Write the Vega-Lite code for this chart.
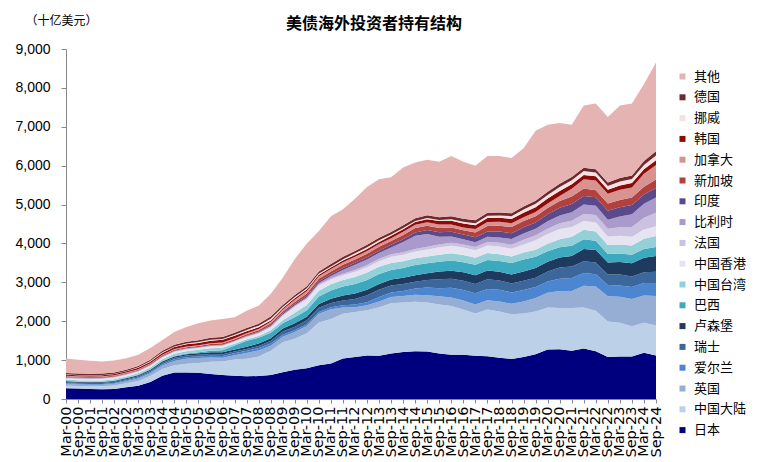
{
"$schema": "https://vega.github.io/schema/vega-lite/v6.json",
"autosize": {"type": "none"},
"padding": {"left": 66, "top": 49, "right": 108, "bottom": 63},
"width": 590,
"height": 350,
"background": "white",
"title": {"text": "美债海外投资者持有结构", "font": "Noto Sans CJK SC", "fontSize": 16, "fontWeight": "bold", "color": "#000000", "anchor": "middle", "dx": 13, "offset": 0, "dy": 18},
"config": {"view": {"stroke": null}, "axis": {"grid": false}},
"data": {"values": [
{"d":"Mar-00","s":"日本","v":275},{"d":"Sep-00","s":"日本","v":270},{"d":"Mar-01","s":"日本","v":260},{"d":"Sep-01","s":"日本","v":250},{"d":"Mar-02","s":"日本","v":260},{"d":"Sep-02","s":"日本","v":300},{"d":"Mar-03","s":"日本","v":340},{"d":"Sep-03","s":"日本","v":440},{"d":"Mar-04","s":"日本","v":600},{"d":"Sep-04","s":"日本","v":680},{"d":"Mar-05","s":"日本","v":680},{"d":"Sep-05","s":"日本","v":675},{"d":"Mar-06","s":"日本","v":640},{"d":"Sep-06","s":"日本","v":620},{"d":"Mar-07","s":"日本","v":600},{"d":"Sep-07","s":"日本","v":585},{"d":"Mar-08","s":"日本","v":590},{"d":"Sep-08","s":"日本","v":620},{"d":"Mar-09","s":"日本","v":690},{"d":"Sep-09","s":"日本","v":750},{"d":"Mar-10","s":"日本","v":790},{"d":"Sep-10","s":"日本","v":870},{"d":"Mar-11","s":"日本","v":910},{"d":"Sep-11","s":"日本","v":1040},{"d":"Mar-12","s":"日本","v":1080},{"d":"Sep-12","s":"日本","v":1120},{"d":"Mar-13","s":"日本","v":1110},{"d":"Sep-13","s":"日本","v":1170},{"d":"Mar-14","s":"日本","v":1210},{"d":"Sep-14","s":"日本","v":1230},{"d":"Mar-15","s":"日本","v":1220},{"d":"Sep-15","s":"日本","v":1170},{"d":"Mar-16","s":"日本","v":1140},{"d":"Sep-16","s":"日本","v":1140},{"d":"Mar-17","s":"日本","v":1110},{"d":"Sep-17","s":"日本","v":1100},{"d":"Mar-18","s":"日本","v":1060},{"d":"Sep-18","s":"日本","v":1030},{"d":"Mar-19","s":"日本","v":1080},{"d":"Sep-19","s":"日本","v":1150},{"d":"Mar-20","s":"日本","v":1270},{"d":"Sep-20","s":"日本","v":1280},{"d":"Mar-21","s":"日本","v":1240},{"d":"Sep-21","s":"日本","v":1300},{"d":"Mar-22","s":"日本","v":1230},{"d":"Sep-22","s":"日本","v":1080},{"d":"Mar-23","s":"日本","v":1090},{"d":"Sep-23","s":"日本","v":1090},{"d":"Mar-24","s":"日本","v":1190},{"d":"Sep-24","s":"日本","v":1120},
{"d":"Mar-00","s":"中国大陆","v":72},{"d":"Sep-00","s":"中国大陆","v":60},{"d":"Mar-01","s":"中国大陆","v":65},{"d":"Sep-01","s":"中国大陆","v":75},{"d":"Mar-02","s":"中国大陆","v":85},{"d":"Sep-02","s":"中国大陆","v":105},{"d":"Mar-03","s":"中国大陆","v":125},{"d":"Sep-03","s":"中国大陆","v":150},{"d":"Mar-04","s":"中国大陆","v":170},{"d":"Sep-04","s":"中国大陆","v":190},{"d":"Mar-05","s":"中国大陆","v":225},{"d":"Sep-05","s":"中国大陆","v":250},{"d":"Mar-06","s":"中国大陆","v":320},{"d":"Sep-06","s":"中国大陆","v":345},{"d":"Mar-07","s":"中国大陆","v":415},{"d":"Sep-07","s":"中国大陆","v":450},{"d":"Mar-08","s":"中国大陆","v":500},{"d":"Sep-08","s":"中国大陆","v":620},{"d":"Mar-09","s":"中国大陆","v":770},{"d":"Sep-09","s":"中国大陆","v":800},{"d":"Mar-10","s":"中国大陆","v":900},{"d":"Sep-10","s":"中国大陆","v":1100},{"d":"Mar-11","s":"中国大陆","v":1150},{"d":"Sep-11","s":"中国大陆","v":1150},{"d":"Mar-12","s":"中国大陆","v":1160},{"d":"Sep-12","s":"中国大陆","v":1160},{"d":"Mar-13","s":"中国大陆","v":1250},{"d":"Sep-13","s":"中国大陆","v":1290},{"d":"Mar-14","s":"中国大陆","v":1270},{"d":"Sep-14","s":"中国大陆","v":1270},{"d":"Mar-15","s":"中国大陆","v":1260},{"d":"Sep-15","s":"中国大陆","v":1260},{"d":"Mar-16","s":"中国大陆","v":1250},{"d":"Sep-16","s":"中国大陆","v":1160},{"d":"Mar-17","s":"中国大陆","v":1090},{"d":"Sep-17","s":"中国大陆","v":1200},{"d":"Mar-18","s":"中国大陆","v":1190},{"d":"Sep-18","s":"中国大陆","v":1150},{"d":"Mar-19","s":"中国大陆","v":1120},{"d":"Sep-19","s":"中国大陆","v":1100},{"d":"Mar-20","s":"中国大陆","v":1080},{"d":"Sep-20","s":"中国大陆","v":1060},{"d":"Mar-21","s":"中国大陆","v":1100},{"d":"Sep-21","s":"中国大陆","v":1050},{"d":"Mar-22","s":"中国大陆","v":1040},{"d":"Sep-22","s":"中国大陆","v":910},{"d":"Mar-23","s":"中国大陆","v":870},{"d":"Sep-23","s":"中国大陆","v":780},{"d":"Mar-24","s":"中国大陆","v":770},{"d":"Sep-24","s":"中国大陆","v":770},
{"d":"Mar-00","s":"英国","v":45},{"d":"Sep-00","s":"英国","v":45},{"d":"Mar-01","s":"英国","v":40},{"d":"Sep-01","s":"英国","v":40},{"d":"Mar-02","s":"英国","v":45},{"d":"Sep-02","s":"英国","v":50},{"d":"Mar-03","s":"英国","v":60},{"d":"Sep-03","s":"英国","v":70},{"d":"Mar-04","s":"英国","v":90},{"d":"Sep-04","s":"英国","v":110},{"d":"Mar-05","s":"英国","v":130},{"d":"Sep-05","s":"英国","v":130},{"d":"Mar-06","s":"英国","v":110},{"d":"Sep-06","s":"英国","v":95},{"d":"Mar-07","s":"英国","v":110},{"d":"Sep-07","s":"英国","v":150},{"d":"Mar-08","s":"英国","v":160},{"d":"Sep-08","s":"英国","v":130},{"d":"Mar-09","s":"英国","v":140},{"d":"Sep-09","s":"英国","v":170},{"d":"Mar-10","s":"英国","v":190},{"d":"Sep-10","s":"英国","v":220},{"d":"Mar-11","s":"英国","v":250},{"d":"Sep-11","s":"英国","v":160},{"d":"Mar-12","s":"英国","v":120},{"d":"Sep-12","s":"英国","v":130},{"d":"Mar-13","s":"英国","v":150},{"d":"Sep-13","s":"英国","v":160},{"d":"Mar-14","s":"英国","v":170},{"d":"Sep-14","s":"英国","v":180},{"d":"Mar-15","s":"英国","v":190},{"d":"Sep-15","s":"英国","v":210},{"d":"Mar-16","s":"英国","v":220},{"d":"Sep-16","s":"英国","v":230},{"d":"Mar-17","s":"英国","v":230},{"d":"Sep-17","s":"英国","v":240},{"d":"Mar-18","s":"英国","v":260},{"d":"Sep-18","s":"英国","v":270},{"d":"Mar-19","s":"英国","v":310},{"d":"Sep-19","s":"英国","v":350},{"d":"Mar-20","s":"英国","v":380},{"d":"Sep-20","s":"英国","v":440},{"d":"Mar-21","s":"英国","v":440},{"d":"Sep-21","s":"英国","v":560},{"d":"Mar-22","s":"英国","v":620},{"d":"Sep-22","s":"英国","v":650},{"d":"Mar-23","s":"英国","v":670},{"d":"Sep-23","s":"英国","v":700},{"d":"Mar-24","s":"英国","v":700},{"d":"Sep-24","s":"英国","v":760},
{"d":"Mar-00","s":"爱尔兰","v":20},{"d":"Sep-00","s":"爱尔兰","v":20},{"d":"Mar-01","s":"爱尔兰","v":20},{"d":"Sep-01","s":"爱尔兰","v":22},{"d":"Mar-02","s":"爱尔兰","v":24},{"d":"Sep-02","s":"爱尔兰","v":25},{"d":"Mar-03","s":"爱尔兰","v":28},{"d":"Sep-03","s":"爱尔兰","v":30},{"d":"Mar-04","s":"爱尔兰","v":35},{"d":"Sep-04","s":"爱尔兰","v":40},{"d":"Mar-05","s":"爱尔兰","v":40},{"d":"Sep-05","s":"爱尔兰","v":40},{"d":"Mar-06","s":"爱尔兰","v":40},{"d":"Sep-06","s":"爱尔兰","v":45},{"d":"Mar-07","s":"爱尔兰","v":50},{"d":"Sep-07","s":"爱尔兰","v":55},{"d":"Mar-08","s":"爱尔兰","v":60},{"d":"Sep-08","s":"爱尔兰","v":60},{"d":"Mar-09","s":"爱尔兰","v":55},{"d":"Sep-09","s":"爱尔兰","v":50},{"d":"Mar-10","s":"爱尔兰","v":45},{"d":"Sep-10","s":"爱尔兰","v":45},{"d":"Mar-11","s":"爱尔兰","v":50},{"d":"Sep-11","s":"爱尔兰","v":60},{"d":"Mar-12","s":"爱尔兰","v":70},{"d":"Sep-12","s":"爱尔兰","v":80},{"d":"Mar-13","s":"爱尔兰","v":110},{"d":"Sep-13","s":"爱尔兰","v":120},{"d":"Mar-14","s":"爱尔兰","v":130},{"d":"Sep-14","s":"爱尔兰","v":160},{"d":"Mar-15","s":"爱尔兰","v":200},{"d":"Sep-15","s":"爱尔兰","v":210},{"d":"Mar-16","s":"爱尔兰","v":250},{"d":"Sep-16","s":"爱尔兰","v":270},{"d":"Mar-17","s":"爱尔兰","v":290},{"d":"Sep-17","s":"爱尔兰","v":290},{"d":"Mar-18","s":"爱尔兰","v":300},{"d":"Sep-18","s":"爱尔兰","v":290},{"d":"Mar-19","s":"爱尔兰","v":290},{"d":"Sep-19","s":"爱尔兰","v":280},{"d":"Mar-20","s":"爱尔兰","v":290},{"d":"Sep-20","s":"爱尔兰","v":310},{"d":"Mar-21","s":"爱尔兰","v":330},{"d":"Sep-21","s":"爱尔兰","v":330},{"d":"Mar-22","s":"爱尔兰","v":320},{"d":"Sep-22","s":"爱尔兰","v":290},{"d":"Mar-23","s":"爱尔兰","v":290},{"d":"Sep-23","s":"爱尔兰","v":310},{"d":"Mar-24","s":"爱尔兰","v":320},{"d":"Sep-24","s":"爱尔兰","v":330},
{"d":"Mar-00","s":"瑞士","v":25},{"d":"Sep-00","s":"瑞士","v":25},{"d":"Mar-01","s":"瑞士","v":28},{"d":"Sep-01","s":"瑞士","v":28},{"d":"Mar-02","s":"瑞士","v":30},{"d":"Sep-02","s":"瑞士","v":30},{"d":"Mar-03","s":"瑞士","v":32},{"d":"Sep-03","s":"瑞士","v":35},{"d":"Mar-04","s":"瑞士","v":38},{"d":"Sep-04","s":"瑞士","v":40},{"d":"Mar-05","s":"瑞士","v":42},{"d":"Sep-05","s":"瑞士","v":42},{"d":"Mar-06","s":"瑞士","v":45},{"d":"Sep-06","s":"瑞士","v":45},{"d":"Mar-07","s":"瑞士","v":45},{"d":"Sep-07","s":"瑞士","v":45},{"d":"Mar-08","s":"瑞士","v":50},{"d":"Sep-08","s":"瑞士","v":60},{"d":"Mar-09","s":"瑞士","v":80},{"d":"Sep-09","s":"瑞士","v":90},{"d":"Mar-10","s":"瑞士","v":100},{"d":"Sep-10","s":"瑞士","v":110},{"d":"Mar-11","s":"瑞士","v":110},{"d":"Sep-11","s":"瑞士","v":120},{"d":"Mar-12","s":"瑞士","v":140},{"d":"Sep-12","s":"瑞士","v":180},{"d":"Mar-13","s":"瑞士","v":190},{"d":"Sep-13","s":"瑞士","v":180},{"d":"Mar-14","s":"瑞士","v":180},{"d":"Sep-14","s":"瑞士","v":175},{"d":"Mar-15","s":"瑞士","v":190},{"d":"Sep-15","s":"瑞士","v":230},{"d":"Mar-16","s":"瑞士","v":230},{"d":"Sep-16","s":"瑞士","v":240},{"d":"Mar-17","s":"瑞士","v":240},{"d":"Sep-17","s":"瑞士","v":250},{"d":"Mar-18","s":"瑞士","v":240},{"d":"Sep-18","s":"瑞士","v":230},{"d":"Mar-19","s":"瑞士","v":240},{"d":"Sep-19","s":"瑞士","v":240},{"d":"Mar-20","s":"瑞士","v":260},{"d":"Sep-20","s":"瑞士","v":290},{"d":"Mar-21","s":"瑞士","v":300},{"d":"Sep-21","s":"瑞士","v":300},{"d":"Mar-22","s":"瑞士","v":300},{"d":"Sep-22","s":"瑞士","v":270},{"d":"Mar-23","s":"瑞士","v":280},{"d":"Sep-23","s":"瑞士","v":270},{"d":"Mar-24","s":"瑞士","v":280},{"d":"Sep-24","s":"瑞士","v":290},
{"d":"Mar-00","s":"卢森堡","v":20},{"d":"Sep-00","s":"卢森堡","v":20},{"d":"Mar-01","s":"卢森堡","v":20},{"d":"Sep-01","s":"卢森堡","v":20},{"d":"Mar-02","s":"卢森堡","v":22},{"d":"Sep-02","s":"卢森堡","v":25},{"d":"Mar-03","s":"卢森堡","v":25},{"d":"Sep-03","s":"卢森堡","v":28},{"d":"Mar-04","s":"卢森堡","v":30},{"d":"Sep-04","s":"卢森堡","v":32},{"d":"Mar-05","s":"卢森堡","v":35},{"d":"Sep-05","s":"卢森堡","v":40},{"d":"Mar-06","s":"卢森堡","v":45},{"d":"Sep-06","s":"卢森堡","v":50},{"d":"Mar-07","s":"卢森堡","v":55},{"d":"Sep-07","s":"卢森堡","v":60},{"d":"Mar-08","s":"卢森堡","v":65},{"d":"Sep-08","s":"卢森堡","v":75},{"d":"Mar-09","s":"卢森堡","v":80},{"d":"Sep-09","s":"卢森堡","v":85},{"d":"Mar-10","s":"卢森堡","v":90},{"d":"Sep-10","s":"卢森堡","v":100},{"d":"Mar-11","s":"卢森堡","v":110},{"d":"Sep-11","s":"卢森堡","v":130},{"d":"Mar-12","s":"卢森堡","v":140},{"d":"Sep-12","s":"卢森堡","v":140},{"d":"Mar-13","s":"卢森堡","v":150},{"d":"Sep-13","s":"卢森堡","v":150},{"d":"Mar-14","s":"卢森堡","v":160},{"d":"Sep-14","s":"卢森堡","v":170},{"d":"Mar-15","s":"卢森堡","v":175},{"d":"Sep-15","s":"卢森堡","v":200},{"d":"Mar-16","s":"卢森堡","v":210},{"d":"Sep-16","s":"卢森堡","v":220},{"d":"Mar-17","s":"卢森堡","v":220},{"d":"Sep-17","s":"卢森堡","v":225},{"d":"Mar-18","s":"卢森堡","v":220},{"d":"Sep-18","s":"卢森堡","v":230},{"d":"Mar-19","s":"卢森堡","v":240},{"d":"Sep-19","s":"卢森堡","v":250},{"d":"Mar-20","s":"卢森堡","v":250},{"d":"Sep-20","s":"卢森堡","v":260},{"d":"Mar-21","s":"卢森堡","v":270},{"d":"Sep-21","s":"卢森堡","v":320},{"d":"Mar-22","s":"卢森堡","v":320},{"d":"Sep-22","s":"卢森堡","v":310},{"d":"Mar-23","s":"卢森堡","v":320},{"d":"Sep-23","s":"卢森堡","v":340},{"d":"Mar-24","s":"卢森堡","v":370},{"d":"Sep-24","s":"卢森堡","v":410},
{"d":"Mar-00","s":"巴西","v":10},{"d":"Sep-00","s":"巴西","v":10},{"d":"Mar-01","s":"巴西","v":10},{"d":"Sep-01","s":"巴西","v":10},{"d":"Mar-02","s":"巴西","v":10},{"d":"Sep-02","s":"巴西","v":10},{"d":"Mar-03","s":"巴西","v":12},{"d":"Sep-03","s":"巴西","v":12},{"d":"Mar-04","s":"巴西","v":12},{"d":"Sep-04","s":"巴西","v":15},{"d":"Mar-05","s":"巴西","v":18},{"d":"Sep-05","s":"巴西","v":25},{"d":"Mar-06","s":"巴西","v":40},{"d":"Sep-06","s":"巴西","v":55},{"d":"Mar-07","s":"巴西","v":100},{"d":"Sep-07","s":"巴西","v":150},{"d":"Mar-08","s":"巴西","v":150},{"d":"Sep-08","s":"巴西","v":140},{"d":"Mar-09","s":"巴西","v":130},{"d":"Sep-09","s":"巴西","v":160},{"d":"Mar-10","s":"巴西","v":170},{"d":"Sep-10","s":"巴西","v":190},{"d":"Mar-11","s":"巴西","v":210},{"d":"Sep-11","s":"巴西","v":230},{"d":"Mar-12","s":"巴西","v":245},{"d":"Sep-12","s":"巴西","v":250},{"d":"Mar-13","s":"巴西","v":255},{"d":"Sep-13","s":"巴西","v":250},{"d":"Mar-14","s":"巴西","v":250},{"d":"Sep-14","s":"巴西","v":260},{"d":"Mar-15","s":"巴西","v":255},{"d":"Sep-15","s":"巴西","v":250},{"d":"Mar-16","s":"巴西","v":260},{"d":"Sep-16","s":"巴西","v":255},{"d":"Mar-17","s":"巴西","v":270},{"d":"Sep-17","s":"巴西","v":270},{"d":"Mar-18","s":"巴西","v":280},{"d":"Sep-18","s":"巴西","v":300},{"d":"Mar-19","s":"巴西","v":310},{"d":"Sep-19","s":"巴西","v":290},{"d":"Mar-20","s":"巴西","v":270},{"d":"Sep-20","s":"巴西","v":260},{"d":"Mar-21","s":"巴西","v":260},{"d":"Sep-21","s":"巴西","v":250},{"d":"Mar-22","s":"巴西","v":240},{"d":"Sep-22","s":"巴西","v":220},{"d":"Mar-23","s":"巴西","v":220},{"d":"Sep-23","s":"巴西","v":220},{"d":"Mar-24","s":"巴西","v":230},{"d":"Sep-24","s":"巴西","v":230},
{"d":"Mar-00","s":"中国台湾","v":32},{"d":"Sep-00","s":"中国台湾","v":32},{"d":"Mar-01","s":"中国台湾","v":32},{"d":"Sep-01","s":"中国台湾","v":33},{"d":"Mar-02","s":"中国台湾","v":35},{"d":"Sep-02","s":"中国台湾","v":35},{"d":"Mar-03","s":"中国台湾","v":38},{"d":"Sep-03","s":"中国台湾","v":42},{"d":"Mar-04","s":"中国台湾","v":48},{"d":"Sep-04","s":"中国台湾","v":55},{"d":"Mar-05","s":"中国台湾","v":60},{"d":"Sep-05","s":"中国台湾","v":62},{"d":"Mar-06","s":"中国台湾","v":65},{"d":"Sep-06","s":"中国台湾","v":60},{"d":"Mar-07","s":"中国台湾","v":45},{"d":"Sep-07","s":"中国台湾","v":40},{"d":"Mar-08","s":"中国台湾","v":45},{"d":"Sep-08","s":"中国台湾","v":60},{"d":"Mar-09","s":"中国台湾","v":80},{"d":"Sep-09","s":"中国台湾","v":115},{"d":"Mar-10","s":"中国台湾","v":130},{"d":"Sep-10","s":"中国台湾","v":150},{"d":"Mar-11","s":"中国台湾","v":160},{"d":"Sep-11","s":"中国台湾","v":170},{"d":"Mar-12","s":"中国台湾","v":180},{"d":"Sep-12","s":"中国台湾","v":190},{"d":"Mar-13","s":"中国台湾","v":185},{"d":"Sep-13","s":"中国台湾","v":180},{"d":"Mar-14","s":"中国台湾","v":175},{"d":"Sep-14","s":"中国台湾","v":175},{"d":"Mar-15","s":"中国台湾","v":175},{"d":"Sep-15","s":"中国台湾","v":180},{"d":"Mar-16","s":"中国台湾","v":185},{"d":"Sep-16","s":"中国台湾","v":190},{"d":"Mar-17","s":"中国台湾","v":185},{"d":"Sep-17","s":"中国台湾","v":180},{"d":"Mar-18","s":"中国台湾","v":170},{"d":"Sep-18","s":"中国台湾","v":165},{"d":"Mar-19","s":"中国台湾","v":175},{"d":"Sep-19","s":"中国台湾","v":180},{"d":"Mar-20","s":"中国台湾","v":190},{"d":"Sep-20","s":"中国台湾","v":210},{"d":"Mar-21","s":"中国台湾","v":230},{"d":"Sep-21","s":"中国台湾","v":240},{"d":"Mar-22","s":"中国台湾","v":240},{"d":"Sep-22","s":"中国台湾","v":230},{"d":"Mar-23","s":"中国台湾","v":235},{"d":"Sep-23","s":"中国台湾","v":240},{"d":"Mar-24","s":"中国台湾","v":260},{"d":"Sep-24","s":"中国台湾","v":280},
{"d":"Mar-00","s":"中国香港","v":32},{"d":"Sep-00","s":"中国香港","v":34},{"d":"Mar-01","s":"中国香港","v":35},{"d":"Sep-01","s":"中国香港","v":38},{"d":"Mar-02","s":"中国香港","v":38},{"d":"Sep-02","s":"中国香港","v":40},{"d":"Mar-03","s":"中国香港","v":42},{"d":"Sep-03","s":"中国香港","v":45},{"d":"Mar-04","s":"中国香港","v":45},{"d":"Sep-04","s":"中国香港","v":45},{"d":"Mar-05","s":"中国香港","v":42},{"d":"Sep-05","s":"中国香港","v":40},{"d":"Mar-06","s":"中国香港","v":45},{"d":"Sep-06","s":"中国香港","v":50},{"d":"Mar-07","s":"中国香港","v":50},{"d":"Sep-07","s":"中国香港","v":55},{"d":"Mar-08","s":"中国香港","v":65},{"d":"Sep-08","s":"中国香港","v":75},{"d":"Mar-09","s":"中国香港","v":110},{"d":"Sep-09","s":"中国香港","v":150},{"d":"Mar-10","s":"中国香港","v":145},{"d":"Sep-10","s":"中国香港","v":135},{"d":"Mar-11","s":"中国香港","v":125},{"d":"Sep-11","s":"中国香港","v":120},{"d":"Mar-12","s":"中国香港","v":135},{"d":"Sep-12","s":"中国香港","v":140},{"d":"Mar-13","s":"中国香港","v":145},{"d":"Sep-13","s":"中国香港","v":160},{"d":"Mar-14","s":"中国香港","v":165},{"d":"Sep-14","s":"中国香港","v":170},{"d":"Mar-15","s":"中国香港","v":180},{"d":"Sep-15","s":"中国香港","v":190},{"d":"Mar-16","s":"中国香港","v":195},{"d":"Sep-16","s":"中国香港","v":190},{"d":"Mar-17","s":"中国香港","v":190},{"d":"Sep-17","s":"中国香港","v":195},{"d":"Mar-18","s":"中国香港","v":200},{"d":"Sep-18","s":"中国香港","v":200},{"d":"Mar-19","s":"中国香港","v":210},{"d":"Sep-19","s":"中国香港","v":240},{"d":"Mar-20","s":"中国香港","v":250},{"d":"Sep-20","s":"中国香港","v":260},{"d":"Mar-21","s":"中国香港","v":255},{"d":"Sep-21","s":"中国香港","v":230},{"d":"Mar-22","s":"中国香港","v":230},{"d":"Sep-22","s":"中国香港","v":220},{"d":"Mar-23","s":"中国香港","v":220},{"d":"Sep-23","s":"中国香港","v":220},{"d":"Mar-24","s":"中国香港","v":240},{"d":"Sep-24","s":"中国香港","v":250},
{"d":"Mar-00","s":"法国","v":12},{"d":"Sep-00","s":"法国","v":12},{"d":"Mar-01","s":"法国","v":12},{"d":"Sep-01","s":"法国","v":12},{"d":"Mar-02","s":"法国","v":12},{"d":"Sep-02","s":"法国","v":12},{"d":"Mar-03","s":"法国","v":12},{"d":"Sep-03","s":"法国","v":12},{"d":"Mar-04","s":"法国","v":12},{"d":"Sep-04","s":"法国","v":12},{"d":"Mar-05","s":"法国","v":12},{"d":"Sep-05","s":"法国","v":12},{"d":"Mar-06","s":"法国","v":12},{"d":"Sep-06","s":"法国","v":12},{"d":"Mar-07","s":"法国","v":12},{"d":"Sep-07","s":"法国","v":12},{"d":"Mar-08","s":"法国","v":15},{"d":"Sep-08","s":"法国","v":20},{"d":"Mar-09","s":"法国","v":20},{"d":"Sep-09","s":"法国","v":20},{"d":"Mar-10","s":"法国","v":25},{"d":"Sep-10","s":"法国","v":25},{"d":"Mar-11","s":"法国","v":30},{"d":"Sep-11","s":"法国","v":40},{"d":"Mar-12","s":"法国","v":50},{"d":"Sep-12","s":"法国","v":55},{"d":"Mar-13","s":"法国","v":60},{"d":"Sep-13","s":"法国","v":65},{"d":"Mar-14","s":"法国","v":65},{"d":"Sep-14","s":"法国","v":70},{"d":"Mar-15","s":"法国","v":70},{"d":"Sep-15","s":"法国","v":75},{"d":"Mar-16","s":"法国","v":80},{"d":"Sep-16","s":"法国","v":80},{"d":"Mar-17","s":"法国","v":85},{"d":"Sep-17","s":"法国","v":90},{"d":"Mar-18","s":"法国","v":95},{"d":"Sep-18","s":"法国","v":100},{"d":"Mar-19","s":"法国","v":120},{"d":"Sep-19","s":"法国","v":130},{"d":"Mar-20","s":"法国","v":140},{"d":"Sep-20","s":"法国","v":150},{"d":"Mar-21","s":"法国","v":160},{"d":"Sep-21","s":"法国","v":180},{"d":"Mar-22","s":"法国","v":190},{"d":"Sep-22","s":"法国","v":200},{"d":"Mar-23","s":"法国","v":220},{"d":"Sep-23","s":"法国","v":250},{"d":"Mar-24","s":"法国","v":300},{"d":"Sep-24","s":"法国","v":350},
{"d":"Mar-00","s":"比利时","v":18},{"d":"Sep-00","s":"比利时","v":18},{"d":"Mar-01","s":"比利时","v":18},{"d":"Sep-01","s":"比利时","v":16},{"d":"Mar-02","s":"比利时","v":14},{"d":"Sep-02","s":"比利时","v":14},{"d":"Mar-03","s":"比利时","v":14},{"d":"Sep-03","s":"比利时","v":14},{"d":"Mar-04","s":"比利时","v":14},{"d":"Sep-04","s":"比利时","v":14},{"d":"Mar-05","s":"比利时","v":14},{"d":"Sep-05","s":"比利时","v":14},{"d":"Mar-06","s":"比利时","v":14},{"d":"Sep-06","s":"比利时","v":14},{"d":"Mar-07","s":"比利时","v":14},{"d":"Sep-07","s":"比利时","v":15},{"d":"Mar-08","s":"比利时","v":15},{"d":"Sep-08","s":"比利时","v":20},{"d":"Mar-09","s":"比利时","v":20},{"d":"Sep-09","s":"比利时","v":20},{"d":"Mar-10","s":"比利时","v":30},{"d":"Sep-10","s":"比利时","v":40},{"d":"Mar-11","s":"比利时","v":60},{"d":"Sep-11","s":"比利时","v":100},{"d":"Mar-12","s":"比利时","v":130},{"d":"Sep-12","s":"比利时","v":140},{"d":"Mar-13","s":"比利时","v":150},{"d":"Sep-13","s":"比利时","v":170},{"d":"Mar-14","s":"比利时","v":260},{"d":"Sep-14","s":"比利时","v":340},{"d":"Mar-15","s":"比利时","v":330},{"d":"Sep-15","s":"比利时","v":200},{"d":"Mar-16","s":"比利时","v":160},{"d":"Sep-16","s":"比利时","v":130},{"d":"Mar-17","s":"比利时","v":120},{"d":"Sep-17","s":"比利时","v":130},{"d":"Mar-18","s":"比利时","v":140},{"d":"Sep-18","s":"比利时","v":150},{"d":"Mar-19","s":"比利时","v":160},{"d":"Sep-19","s":"比利时","v":170},{"d":"Mar-20","s":"比利时","v":190},{"d":"Sep-20","s":"比利时","v":200},{"d":"Mar-21","s":"比利时","v":220},{"d":"Sep-21","s":"比利时","v":240},{"d":"Mar-22","s":"比利时","v":240},{"d":"Sep-22","s":"比利时","v":230},{"d":"Mar-23","s":"比利时","v":280},{"d":"Sep-23","s":"比利时","v":330},{"d":"Mar-24","s":"比利时","v":360},{"d":"Sep-24","s":"比利时","v":390},
{"d":"Mar-00","s":"印度","v":5},{"d":"Sep-00","s":"印度","v":5},{"d":"Mar-01","s":"印度","v":5},{"d":"Sep-01","s":"印度","v":5},{"d":"Mar-02","s":"印度","v":5},{"d":"Sep-02","s":"印度","v":5},{"d":"Mar-03","s":"印度","v":5},{"d":"Sep-03","s":"印度","v":5},{"d":"Mar-04","s":"印度","v":5},{"d":"Sep-04","s":"印度","v":5},{"d":"Mar-05","s":"印度","v":5},{"d":"Sep-05","s":"印度","v":5},{"d":"Mar-06","s":"印度","v":5},{"d":"Sep-06","s":"印度","v":5},{"d":"Mar-07","s":"印度","v":5},{"d":"Sep-07","s":"印度","v":10},{"d":"Mar-08","s":"印度","v":15},{"d":"Sep-08","s":"印度","v":25},{"d":"Mar-09","s":"印度","v":30},{"d":"Sep-09","s":"印度","v":35},{"d":"Mar-10","s":"印度","v":40},{"d":"Sep-10","s":"印度","v":40},{"d":"Mar-11","s":"印度","v":40},{"d":"Sep-11","s":"印度","v":50},{"d":"Mar-12","s":"印度","v":55},{"d":"Sep-12","s":"印度","v":60},{"d":"Mar-13","s":"印度","v":60},{"d":"Sep-13","s":"印度","v":70},{"d":"Mar-14","s":"印度","v":75},{"d":"Sep-14","s":"印度","v":80},{"d":"Mar-15","s":"印度","v":100},{"d":"Sep-15","s":"印度","v":110},{"d":"Mar-16","s":"印度","v":120},{"d":"Sep-16","s":"印度","v":125},{"d":"Mar-17","s":"印度","v":130},{"d":"Sep-17","s":"印度","v":140},{"d":"Mar-18","s":"印度","v":150},{"d":"Sep-18","s":"印度","v":145},{"d":"Mar-19","s":"印度","v":160},{"d":"Sep-19","s":"印度","v":160},{"d":"Mar-20","s":"印度","v":180},{"d":"Sep-20","s":"印度","v":200},{"d":"Mar-21","s":"印度","v":210},{"d":"Sep-21","s":"印度","v":220},{"d":"Mar-22","s":"印度","v":220},{"d":"Sep-22","s":"印度","v":230},{"d":"Mar-23","s":"印度","v":235},{"d":"Sep-23","s":"印度","v":240},{"d":"Mar-24","s":"印度","v":240},{"d":"Sep-24","s":"印度","v":245},
{"d":"Mar-00","s":"新加坡","v":20},{"d":"Sep-00","s":"新加坡","v":20},{"d":"Mar-01","s":"新加坡","v":20},{"d":"Sep-01","s":"新加坡","v":20},{"d":"Mar-02","s":"新加坡","v":20},{"d":"Sep-02","s":"新加坡","v":20},{"d":"Mar-03","s":"新加坡","v":22},{"d":"Sep-03","s":"新加坡","v":24},{"d":"Mar-04","s":"新加坡","v":26},{"d":"Sep-04","s":"新加坡","v":28},{"d":"Mar-05","s":"新加坡","v":30},{"d":"Sep-05","s":"新加坡","v":30},{"d":"Mar-06","s":"新加坡","v":32},{"d":"Sep-06","s":"新加坡","v":35},{"d":"Mar-07","s":"新加坡","v":38},{"d":"Sep-07","s":"新加坡","v":40},{"d":"Mar-08","s":"新加坡","v":40},{"d":"Sep-08","s":"新加坡","v":40},{"d":"Mar-09","s":"新加坡","v":45},{"d":"Sep-09","s":"新加坡","v":50},{"d":"Mar-10","s":"新加坡","v":60},{"d":"Sep-10","s":"新加坡","v":70},{"d":"Mar-11","s":"新加坡","v":75},{"d":"Sep-11","s":"新加坡","v":80},{"d":"Mar-12","s":"新加坡","v":85},{"d":"Sep-12","s":"新加坡","v":90},{"d":"Mar-13","s":"新加坡","v":100},{"d":"Sep-13","s":"新加坡","v":100},{"d":"Mar-14","s":"新加坡","v":110},{"d":"Sep-14","s":"新加坡","v":115},{"d":"Mar-15","s":"新加坡","v":110},{"d":"Sep-15","s":"新加坡","v":110},{"d":"Mar-16","s":"新加坡","v":110},{"d":"Sep-16","s":"新加坡","v":110},{"d":"Mar-17","s":"新加坡","v":120},{"d":"Sep-17","s":"新加坡","v":140},{"d":"Mar-18","s":"新加坡","v":150},{"d":"Sep-18","s":"新加坡","v":160},{"d":"Mar-19","s":"新加坡","v":160},{"d":"Sep-19","s":"新加坡","v":160},{"d":"Mar-20","s":"新加坡","v":160},{"d":"Sep-20","s":"新加坡","v":170},{"d":"Mar-21","s":"新加坡","v":190},{"d":"Sep-21","s":"新加坡","v":190},{"d":"Mar-22","s":"新加坡","v":180},{"d":"Sep-22","s":"新加坡","v":190},{"d":"Mar-23","s":"新加坡","v":190},{"d":"Sep-23","s":"新加坡","v":190},{"d":"Mar-24","s":"新加坡","v":200},{"d":"Sep-24","s":"新加坡","v":220},
{"d":"Mar-00","s":"加拿大","v":15},{"d":"Sep-00","s":"加拿大","v":15},{"d":"Mar-01","s":"加拿大","v":15},{"d":"Sep-01","s":"加拿大","v":15},{"d":"Mar-02","s":"加拿大","v":12},{"d":"Sep-02","s":"加拿大","v":12},{"d":"Mar-03","s":"加拿大","v":12},{"d":"Sep-03","s":"加拿大","v":14},{"d":"Mar-04","s":"加拿大","v":15},{"d":"Sep-04","s":"加拿大","v":18},{"d":"Mar-05","s":"加拿大","v":20},{"d":"Sep-05","s":"加拿大","v":20},{"d":"Mar-06","s":"加拿大","v":22},{"d":"Sep-06","s":"加拿大","v":25},{"d":"Mar-07","s":"加拿大","v":25},{"d":"Sep-07","s":"加拿大","v":25},{"d":"Mar-08","s":"加拿大","v":30},{"d":"Sep-08","s":"加拿大","v":40},{"d":"Mar-09","s":"加拿大","v":50},{"d":"Sep-09","s":"加拿大","v":55},{"d":"Mar-10","s":"加拿大","v":60},{"d":"Sep-10","s":"加拿大","v":60},{"d":"Mar-11","s":"加拿大","v":60},{"d":"Sep-11","s":"加拿大","v":65},{"d":"Mar-12","s":"加拿大","v":65},{"d":"Sep-12","s":"加拿大","v":70},{"d":"Mar-13","s":"加拿大","v":70},{"d":"Sep-13","s":"加拿大","v":70},{"d":"Mar-14","s":"加拿大","v":80},{"d":"Sep-14","s":"加拿大","v":85},{"d":"Mar-15","s":"加拿大","v":90},{"d":"Sep-15","s":"加拿大","v":90},{"d":"Mar-16","s":"加拿大","v":80},{"d":"Sep-16","s":"加拿大","v":70},{"d":"Mar-17","s":"加拿大","v":90},{"d":"Sep-17","s":"加拿大","v":100},{"d":"Mar-18","s":"加拿大","v":100},{"d":"Sep-18","s":"加拿大","v":100},{"d":"Mar-19","s":"加拿大","v":100},{"d":"Sep-19","s":"加拿大","v":110},{"d":"Mar-20","s":"加拿大","v":120},{"d":"Sep-20","s":"加拿大","v":130},{"d":"Mar-21","s":"加拿大","v":200},{"d":"Sep-21","s":"加拿大","v":240},{"d":"Mar-22","s":"加拿大","v":250},{"d":"Sep-22","s":"加拿大","v":250},{"d":"Mar-23","s":"加拿大","v":260},{"d":"Sep-23","s":"加拿大","v":260},{"d":"Mar-24","s":"加拿大","v":330},{"d":"Sep-24","s":"加拿大","v":370},
{"d":"Mar-00","s":"韩国","v":25},{"d":"Sep-00","s":"韩国","v":25},{"d":"Mar-01","s":"韩国","v":25},{"d":"Sep-01","s":"韩国","v":28},{"d":"Mar-02","s":"韩国","v":30},{"d":"Sep-02","s":"韩国","v":30},{"d":"Mar-03","s":"韩国","v":35},{"d":"Sep-03","s":"韩国","v":40},{"d":"Mar-04","s":"韩国","v":45},{"d":"Sep-04","s":"韩国","v":50},{"d":"Mar-05","s":"韩国","v":55},{"d":"Sep-05","s":"韩国","v":58},{"d":"Mar-06","s":"韩国","v":65},{"d":"Sep-06","s":"韩国","v":65},{"d":"Mar-07","s":"韩国","v":60},{"d":"Sep-07","s":"韩国","v":50},{"d":"Mar-08","s":"韩国","v":45},{"d":"Sep-08","s":"韩国","v":35},{"d":"Mar-09","s":"韩国","v":35},{"d":"Sep-09","s":"韩国","v":40},{"d":"Mar-10","s":"韩国","v":40},{"d":"Sep-10","s":"韩国","v":40},{"d":"Mar-11","s":"韩国","v":40},{"d":"Sep-11","s":"韩国","v":45},{"d":"Mar-12","s":"韩国","v":50},{"d":"Sep-12","s":"韩国","v":55},{"d":"Mar-13","s":"韩国","v":55},{"d":"Sep-13","s":"韩国","v":60},{"d":"Mar-14","s":"韩国","v":65},{"d":"Sep-14","s":"韩国","v":70},{"d":"Mar-15","s":"韩国","v":80},{"d":"Sep-15","s":"韩国","v":90},{"d":"Mar-16","s":"韩国","v":95},{"d":"Sep-16","s":"韩国","v":100},{"d":"Mar-17","s":"韩国","v":100},{"d":"Sep-17","s":"韩国","v":105},{"d":"Mar-18","s":"韩国","v":105},{"d":"Sep-18","s":"韩国","v":110},{"d":"Mar-19","s":"韩国","v":115},{"d":"Sep-19","s":"韩国","v":120},{"d":"Mar-20","s":"韩国","v":125},{"d":"Sep-20","s":"韩国","v":130},{"d":"Mar-21","s":"韩国","v":120},{"d":"Sep-21","s":"韩国","v":110},{"d":"Mar-22","s":"韩国","v":105},{"d":"Sep-22","s":"韩国","v":100},{"d":"Mar-23","s":"韩国","v":110},{"d":"Sep-23","s":"韩国","v":115},{"d":"Mar-24","s":"韩国","v":120},{"d":"Sep-24","s":"韩国","v":125},
{"d":"Mar-00","s":"挪威","v":8},{"d":"Sep-00","s":"挪威","v":8},{"d":"Mar-01","s":"挪威","v":8},{"d":"Sep-01","s":"挪威","v":8},{"d":"Mar-02","s":"挪威","v":10},{"d":"Sep-02","s":"挪威","v":10},{"d":"Mar-03","s":"挪威","v":12},{"d":"Sep-03","s":"挪威","v":14},{"d":"Mar-04","s":"挪威","v":16},{"d":"Sep-04","s":"挪威","v":18},{"d":"Mar-05","s":"挪威","v":20},{"d":"Sep-05","s":"挪威","v":22},{"d":"Mar-06","s":"挪威","v":25},{"d":"Sep-06","s":"挪威","v":25},{"d":"Mar-07","s":"挪威","v":30},{"d":"Sep-07","s":"挪威","v":35},{"d":"Mar-08","s":"挪威","v":40},{"d":"Sep-08","s":"挪威","v":45},{"d":"Mar-09","s":"挪威","v":30},{"d":"Sep-09","s":"挪威","v":30},{"d":"Mar-10","s":"挪威","v":30},{"d":"Sep-10","s":"挪威","v":30},{"d":"Mar-11","s":"挪威","v":30},{"d":"Sep-11","s":"挪威","v":35},{"d":"Mar-12","s":"挪威","v":40},{"d":"Sep-12","s":"挪威","v":40},{"d":"Mar-13","s":"挪威","v":40},{"d":"Sep-13","s":"挪威","v":35},{"d":"Mar-14","s":"挪威","v":30},{"d":"Sep-14","s":"挪威","v":30},{"d":"Mar-15","s":"挪威","v":30},{"d":"Sep-15","s":"挪威","v":30},{"d":"Mar-16","s":"挪威","v":40},{"d":"Sep-16","s":"挪威","v":50},{"d":"Mar-17","s":"挪威","v":50},{"d":"Sep-17","s":"挪威","v":60},{"d":"Mar-18","s":"挪威","v":60},{"d":"Sep-18","s":"挪威","v":70},{"d":"Mar-19","s":"挪威","v":80},{"d":"Sep-19","s":"挪威","v":90},{"d":"Mar-20","s":"挪威","v":90},{"d":"Sep-20","s":"挪威","v":100},{"d":"Mar-21","s":"挪威","v":100},{"d":"Sep-21","s":"挪威","v":100},{"d":"Mar-22","s":"挪威","v":100},{"d":"Sep-22","s":"挪威","v":100},{"d":"Mar-23","s":"挪威","v":100},{"d":"Sep-23","s":"挪威","v":100},{"d":"Mar-24","s":"挪威","v":110},{"d":"Sep-24","s":"挪威","v":120},
{"d":"Mar-00","s":"德国","v":35},{"d":"Sep-00","s":"德国","v":35},{"d":"Mar-01","s":"德国","v":35},{"d":"Sep-01","s":"德国","v":33},{"d":"Mar-02","s":"德国","v":32},{"d":"Sep-02","s":"德国","v":32},{"d":"Mar-03","s":"德国","v":34},{"d":"Sep-03","s":"德国","v":36},{"d":"Mar-04","s":"德国","v":40},{"d":"Sep-04","s":"德国","v":42},{"d":"Mar-05","s":"德国","v":45},{"d":"Sep-05","s":"德国","v":45},{"d":"Mar-06","s":"德国","v":50},{"d":"Sep-06","s":"德国","v":50},{"d":"Mar-07","s":"德国","v":50},{"d":"Sep-07","s":"德国","v":50},{"d":"Mar-08","s":"德国","v":50},{"d":"Sep-08","s":"德国","v":55},{"d":"Mar-09","s":"德国","v":55},{"d":"Sep-09","s":"德国","v":55},{"d":"Mar-10","s":"德国","v":55},{"d":"Sep-10","s":"德国","v":55},{"d":"Mar-11","s":"德国","v":60},{"d":"Sep-11","s":"德国","v":60},{"d":"Mar-12","s":"德国","v":60},{"d":"Sep-12","s":"德国","v":65},{"d":"Mar-13","s":"德国","v":65},{"d":"Sep-13","s":"德国","v":65},{"d":"Mar-14","s":"德国","v":70},{"d":"Sep-14","s":"德国","v":70},{"d":"Mar-15","s":"德国","v":70},{"d":"Sep-15","s":"德国","v":70},{"d":"Mar-16","s":"德国","v":75},{"d":"Sep-16","s":"德国","v":75},{"d":"Mar-17","s":"德国","v":75},{"d":"Sep-17","s":"德国","v":75},{"d":"Mar-18","s":"德国","v":75},{"d":"Sep-18","s":"德国","v":75},{"d":"Mar-19","s":"德国","v":80},{"d":"Sep-19","s":"德国","v":80},{"d":"Mar-20","s":"德国","v":85},{"d":"Sep-20","s":"德国","v":85},{"d":"Mar-21","s":"德国","v":85},{"d":"Sep-21","s":"德国","v":85},{"d":"Mar-22","s":"德国","v":85},{"d":"Sep-22","s":"德国","v":85},{"d":"Mar-23","s":"德国","v":90},{"d":"Sep-23","s":"德国","v":95},{"d":"Mar-24","s":"德国","v":100},{"d":"Sep-24","s":"德国","v":110},
{"d":"Mar-00","s":"其他","v":371},{"d":"Sep-00","s":"其他","v":356},{"d":"Mar-01","s":"其他","v":337},{"d":"Sep-01","s":"其他","v":312},{"d":"Mar-02","s":"其他","v":306},{"d":"Sep-02","s":"其他","v":295},{"d":"Mar-03","s":"其他","v":292},{"d":"Sep-03","s":"其他","v":299},{"d":"Mar-04","s":"其他","v":279},{"d":"Sep-04","s":"其他","v":326},{"d":"Mar-05","s":"其他","v":377},{"d":"Sep-05","s":"其他","v":440},{"d":"Mar-06","s":"其他","v":445},{"d":"Sep-06","s":"其他","v":464},{"d":"Mar-07","s":"其他","v":396},{"d":"Sep-07","s":"其他","v":443},{"d":"Mar-08","s":"其他","v":465},{"d":"Sep-08","s":"其他","v":580},{"d":"Mar-09","s":"其他","v":700},{"d":"Sep-09","s":"其他","v":925},{"d":"Mar-10","s":"其他","v":1100},{"d":"Sep-10","s":"其他","v":1040},{"d":"Mar-11","s":"其他","v":1230},{"d":"Sep-11","s":"其他","v":1225},{"d":"Mar-12","s":"其他","v":1345},{"d":"Sep-12","s":"其他","v":1485},{"d":"Mar-13","s":"其他","v":1505},{"d":"Sep-13","s":"其他","v":1405},{"d":"Mar-14","s":"其他","v":1485},{"d":"Sep-14","s":"其他","v":1430},{"d":"Mar-15","s":"其他","v":1425},{"d":"Sep-15","s":"其他","v":1425},{"d":"Mar-16","s":"其他","v":1550},{"d":"Sep-16","s":"其他","v":1465},{"d":"Mar-17","s":"其他","v":1405},{"d":"Sep-17","s":"其他","v":1460},{"d":"Mar-18","s":"其他","v":1455},{"d":"Sep-18","s":"其他","v":1425},{"d":"Mar-19","s":"其他","v":1500},{"d":"Sep-19","s":"其他","v":1800},{"d":"Mar-20","s":"其他","v":1720},{"d":"Sep-20","s":"其他","v":1565},{"d":"Mar-21","s":"其他","v":1340},{"d":"Sep-21","s":"其他","v":1605},{"d":"Mar-22","s":"其他","v":1690},{"d":"Sep-22","s":"其他","v":1685},{"d":"Mar-23","s":"其他","v":1870},{"d":"Sep-23","s":"其他","v":1850},{"d":"Mar-24","s":"其他","v":1980},{"d":"Sep-24","s":"其他","v":2280}
]},
"transform": [
{"lookup": "s", "from": {"data": {"values": [
{"s":"日本","r":1},{"s":"中国大陆","r":2},{"s":"英国","r":3},{"s":"爱尔兰","r":4},{"s":"瑞士","r":5},{"s":"卢森堡","r":6},{"s":"巴西","r":7},{"s":"中国台湾","r":8},{"s":"中国香港","r":9},{"s":"法国","r":10},{"s":"比利时","r":11},{"s":"印度","r":12},{"s":"新加坡","r":13},{"s":"加拿大","r":14},{"s":"韩国","r":15},{"s":"挪威","r":16},{"s":"德国","r":17},{"s":"其他","r":18}
]}, "key": "s", "fields": ["r"]}}
],
"mark": {"type": "area", "interpolate": "linear"},
"encoding": {
"x": {"field": "d", "type": "ordinal", "sort": null, "scale": {"type": "point", "padding": 0},
"axis": {"title": null, "labelAngle": -90, "labelFont": "DejaVu Sans", "labelFontSize": 14.5, "labelColor": "#000000", "labelPadding": 3, "tickSize": 4, "domainColor": "#888888", "tickColor": "#888888", "labelOverlap": false}},
"y": {"field": "v", "type": "quantitative", "stack": "zero", "scale": {"domain": [0, 9000], "nice": false},
"axis": {"values": [0,1000,2000,3000,4000,5000,6000,7000,8000,9000], "format": ",.0f", "title": "（十亿美元）", "titleAngle": 0, "titleAlign": "left", "titleBaseline": "middle", "titleX": -41, "titleY": -29, "titleFont": "Noto Sans CJK SC", "titleFontSize": 12, "titleFontWeight": "normal", "titleColor": "#000000", "labelFont": "Liberation Sans", "labelFontSize": 14, "labelColor": "#000000", "labelPadding": 11, "tickSize": 5, "domainColor": "#888888", "tickColor": "#888888"}},
"color": {"field": "s", "type": "nominal",
"scale": {"domain": ["其他","德国","挪威","韩国","加拿大","新加坡","印度","比利时","法国","中国香港","中国台湾","巴西","卢森堡","瑞士","爱尔兰","英国","中国大陆","日本"],
"range": ["#E6B3B3","#6E2B2E","#F3E2E2","#8E0A0A","#D8928F","#B0413E","#5A4A8C","#AA9ACB","#CAC2DF","#E6E4F0","#93D0D8","#3DA9BE","#1E3A5E","#3C679C","#4C86D0","#96AED4","#BCD0E7","#00007F"]},
"legend": {"orient": "none", "legendX": 610, "legendY": 21, "title": null, "symbolType": "square", "symbolSize": 36, "symbolStrokeWidth": 0, "labelFont": "Noto Sans CJK SC", "labelFontSize": 13, "labelColor": "#000000", "rowPadding": 6.8, "labelOffset": 5}},
"order": {"field": "r", "type": "quantitative", "sort": "ascending"}
}
}
